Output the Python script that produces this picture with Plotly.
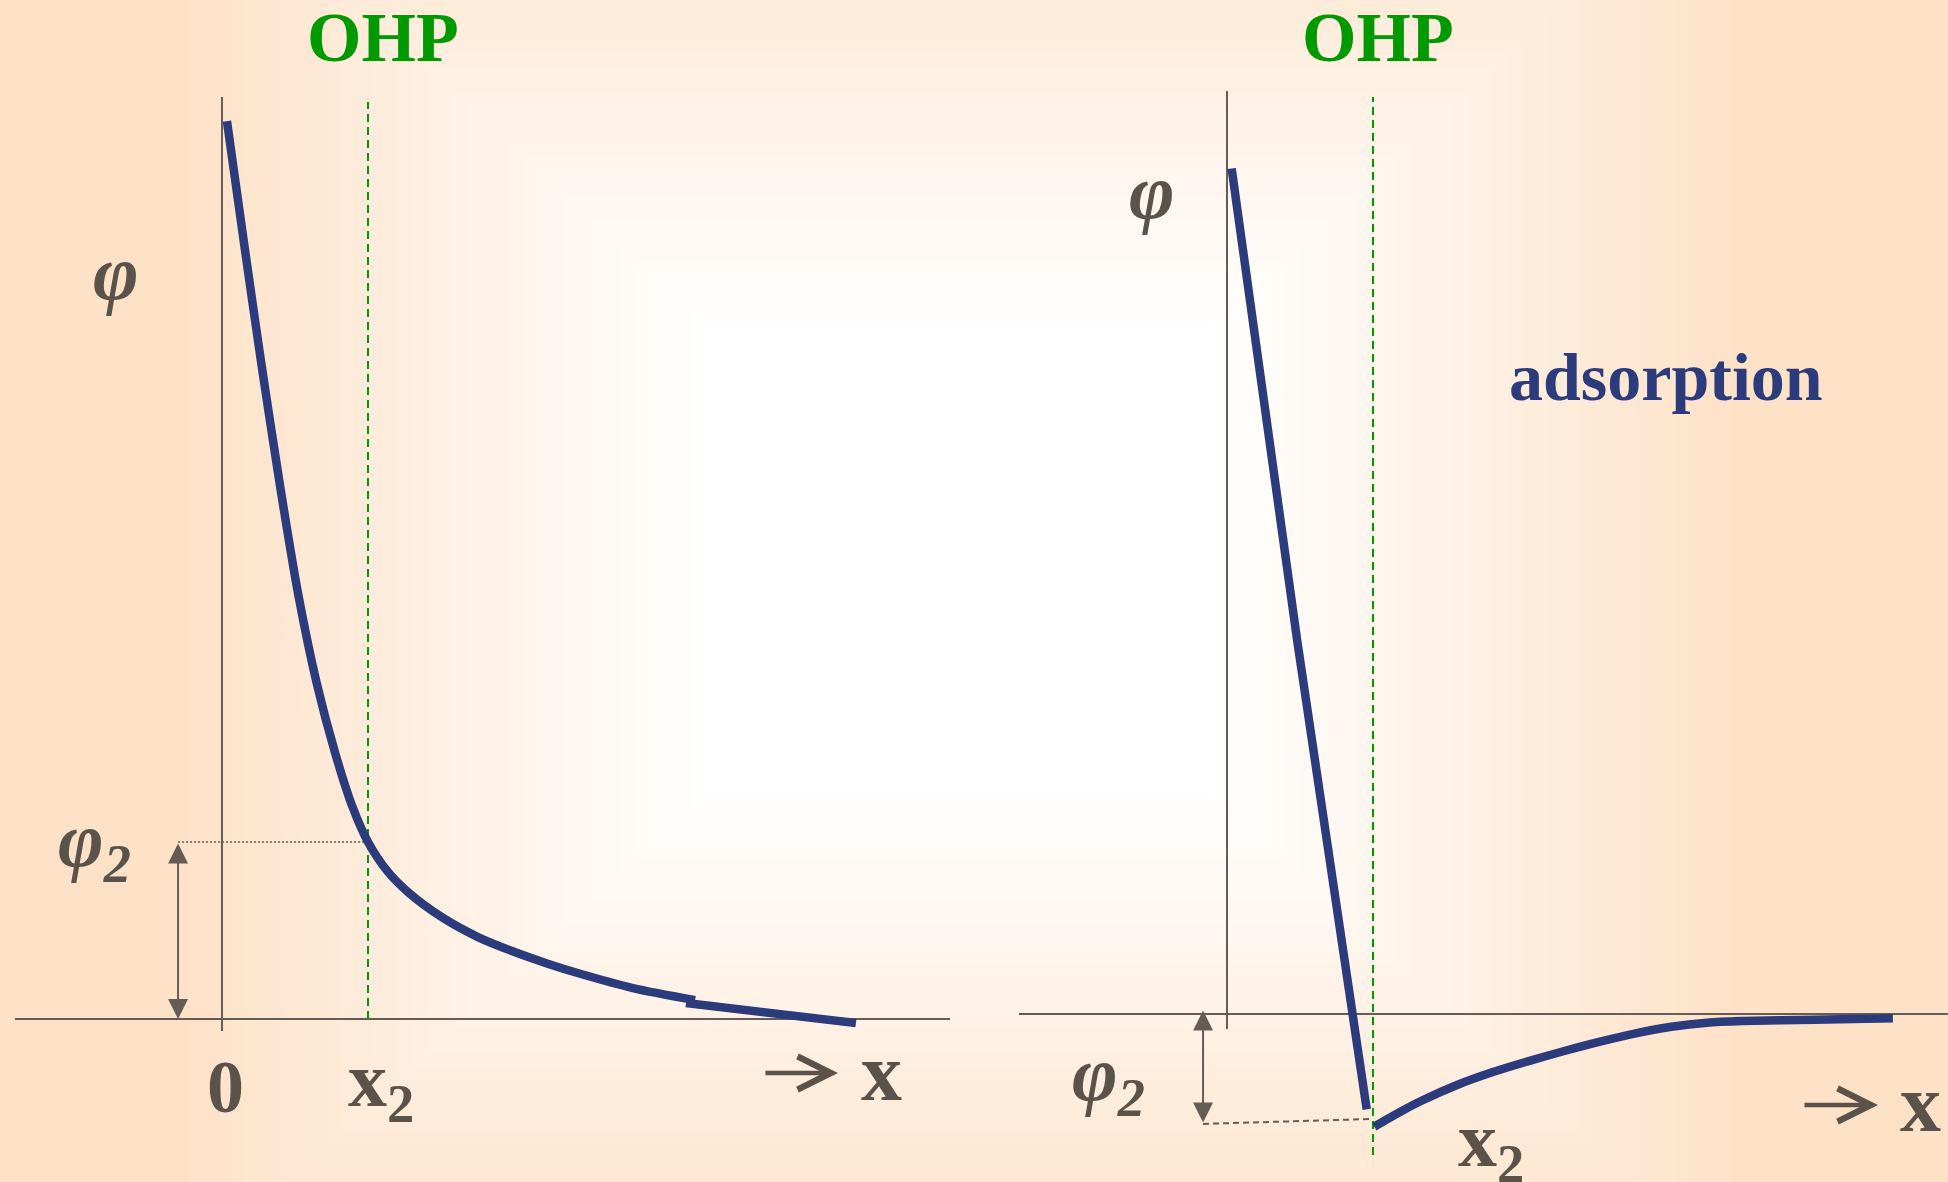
import plotly.graph_objects as go

FIG_W, FIG_H = 1948, 1182

# ---------------------------------------------------------------------------
# Potential profiles. Distance x in units of the OHP distance x2,
# potential phi in arbitrary units (phi2 of the left profile = 1).
# ---------------------------------------------------------------------------
x2 = 1.0

# Left: Gouy-Chapman-Stern profile without specific adsorption
left_x = [0.034, 0.148, 0.270, 0.400, 0.522, 0.648, 0.776, 0.893, 1.000,
          1.137, 1.281, 1.514, 1.753, 1.986, 2.226, 2.459, 2.815, 3.240]
left_phi = [5.073, 4.400, 3.700, 3.000, 2.400, 1.900, 1.500, 1.200, 1.000,
            0.831, 0.712, 0.571, 0.463, 0.384, 0.314, 0.254, 0.175, 0.107]
left_tail_x = [3.178, 4.342]
left_tail_phi = [0.090, -0.023]
left_phi2 = 1.0
left_phi2_ref_x = -0.301          # where the phi2 bracket sits

# Right: specific adsorption drives phi past zero at the OHP
right_inner_x = [0.032, 0.479, 0.957]
right_inner_phi = [4.777, 2.120, -0.539]
right_diffuse_x = [1.009, 1.087, 1.210, 1.332, 1.576, 1.821, 2.066, 2.310,
                   2.555, 2.799, 3.044, 3.288, 3.533, 4.023, 4.561]
right_diffuse_phi = [-0.637, -0.599, -0.542, -0.490, -0.401, -0.328, -0.266,
                     -0.209, -0.156, -0.109, -0.072, -0.049, -0.040, -0.032,
                     -0.024]
right_phi2 = -0.621
right_phi2_ref_x = -0.164
right_phi2_link_x = [right_phi2_ref_x, x2]
right_phi2_link_phi = [right_phi2, -0.593]

# Axis lines and OHP markers
left_axis_x = [-1.418, 4.986]
left_axis_phi = [-0.068, 5.209]
left_ohp_phi = [0.0, 5.181]
right_axis_x = [-1.425, 4.938]
right_axis_phi = [-0.085, 5.215]
right_ohp_phi = [-0.797, 5.181]

# "-> x" direction arrows under each axis
left_dir_x = [3.712, 4.219]
left_dir_phi = -0.305
right_dir_x = [3.945, 4.459]
right_dir_phi = -0.514

# ---------------------------------------------------------------------------
BLUE = "#2B3B7B"
GREEN = "#009900"
GREY = "#655D55"
INK = "#5B5249"
PEACH = (254, 226, 200)
SERIF = "Liberation Serif, Times New Roman, serif"

fig = go.Figure()


def add_line(x, y, axes, color, width, dash="solid", shape="linear"):
    fig.add_trace(go.Scatter(
        x=x, y=y, xaxis=axes[0], yaxis=axes[1], mode="lines",
        line=dict(color=color, width=width, dash=dash, shape=shape,
                  smoothing=0.8 if shape == "spline" else None),
        hoverinfo="skip", showlegend=False))


L, R = ("x", "y"), ("x2", "y2")

# left panel
add_line(left_axis_x, [0, 0], L, GREY, 2)
add_line([0, 0], left_axis_phi, L, GREY, 2)
add_line([x2, x2], left_ohp_phi, L, GREEN, 2, dash="8px,5px")
add_line([left_phi2_ref_x, x2], [left_phi2, left_phi2], L, GREY, 1.5, dash="2px,2px")
add_line(left_x, left_phi, L, BLUE, 8.5, shape="spline")
add_line(left_tail_x, left_tail_phi, L, BLUE, 8.5)

# right panel
add_line(right_axis_x, [0, 0], R, GREY, 2)
add_line([0, 0], right_axis_phi, R, GREY, 2)
add_line([x2, x2], right_ohp_phi, R, GREEN, 2, dash="8px,5px")
add_line(right_phi2_link_x, right_phi2_link_phi, R, GREY, 2, dash="6px,4px")
add_line(right_inner_x, right_inner_phi, R, BLUE, 8.5, shape="spline")
add_line(right_diffuse_x, right_diffuse_phi, R, BLUE, 8.5, shape="spline")

# ---------------------------------------------------------------------------
# rectangular radial background gradient (white centre -> peach rim)
shapes = []
cx, cy = 960, 560
hw, hh = 974, 900
N = 70
for i in range(N):
    t = 1.02 - i / N
    if t <= 0:
        break
    s = min(max((t - 0.26) / (0.80 - 0.26), 0.0), 1.0)
    col = tuple(round(255 * (1 - s) + c * s) for c in PEACH)
    shapes.append(dict(
        type="rect", xref="paper", yref="paper", layer="below",
        x0=(cx - t * hw) / FIG_W, x1=(cx + t * hw) / FIG_W,
        y0=1 - (cy + t * hh) / FIG_H, y1=1 - (cy - t * hh) / FIG_H,
        line=dict(width=0), fillcolor="rgb(%d,%d,%d)" % col))

# ---------------------------------------------------------------------------
annotations = []


def label(text, x, y, axes, size, color=INK, bold=True, italic=False):
    annotations.append(dict(
        text=text, x=x, y=y, xref=axes[0], yref=axes[1], showarrow=False,
        xanchor="center", yanchor="middle", borderpad=0,
        font=dict(family=SERIF, size=size, color=color,
                  weight="bold" if bold else "normal",
                  style="italic" if italic else "normal")))


def bracket(xv, y0, y1, axes):
    annotations.append(dict(
        text="", x=xv, y=y0, ax=xv, ay=y1, xref=axes[0], yref=axes[1],
        axref=axes[0], ayref=axes[1], showarrow=True, arrowside="end+start",
        arrowhead=2, arrowsize=2.0, arrowwidth=2, arrowcolor=GREY))


def direction(xs, yv, axes):
    annotations.append(dict(
        text="", x=xs[1], y=yv, ax=xs[0], ay=yv, xref=axes[0], yref=axes[1],
        axref=axes[0], ayref=axes[1], showarrow=True,
        arrowhead=5, arrowsize=1.45, arrowwidth=4.5, arrowcolor=INK))


# left labels
label("OHP", 1.103, 5.545, L, 70, color=GREEN)
label("φ", -0.726, 4.217, L, 78, italic=True)
label("φ<sub>2</sub>", -0.870, 0.983, L, 78, italic=True)
label("0", 0.027, -0.385, L, 74)
label("x<sub>2</sub>", 1.089, -0.375, L, 78)
direction(left_dir_x, left_dir_phi, L)
label("x", 4.514, -0.300, L, 82)
bracket(left_phi2_ref_x, 0.0, left_phi2, L)

# right labels
label("OHP", 1.034, 5.516, R, 70, color=GREEN)
label("φ", -0.514, 4.647, R, 78, italic=True)
label("adsorption", 3.007, 3.600, R, 68, color=BLUE)
label("φ<sub>2</sub>", -0.815, -0.368, R, 78, italic=True)
label("x<sub>2</sub>", 1.808, -0.740, R, 78)
direction(right_dir_x, right_dir_phi, R)
label("x", 4.753, -0.505, R, 82)
bracket(right_phi2_ref_x, 0.02, right_phi2, R)

fig.update_layout(
    width=FIG_W, height=FIG_H,
    margin=dict(l=0, r=0, t=0, b=0),
    paper_bgcolor="rgb(%d,%d,%d)" % PEACH,
    plot_bgcolor="rgba(0,0,0,0)",
    shapes=shapes, annotations=annotations,
    xaxis=dict(domain=[0, 0.5], range=[-1.5205, 5.1507], visible=False),
    yaxis=dict(domain=[0, 1], range=[-0.9209, 5.7571], visible=False),
    xaxis2=dict(domain=[0.5, 1], range=[-1.7329, 4.9384], visible=False, anchor="y2"),
    yaxis2=dict(domain=[0, 1], range=[-0.9492, 5.7288], visible=False, anchor="x2"),
)

fig.write_html("out.html", config={"displayModeBar": False})
